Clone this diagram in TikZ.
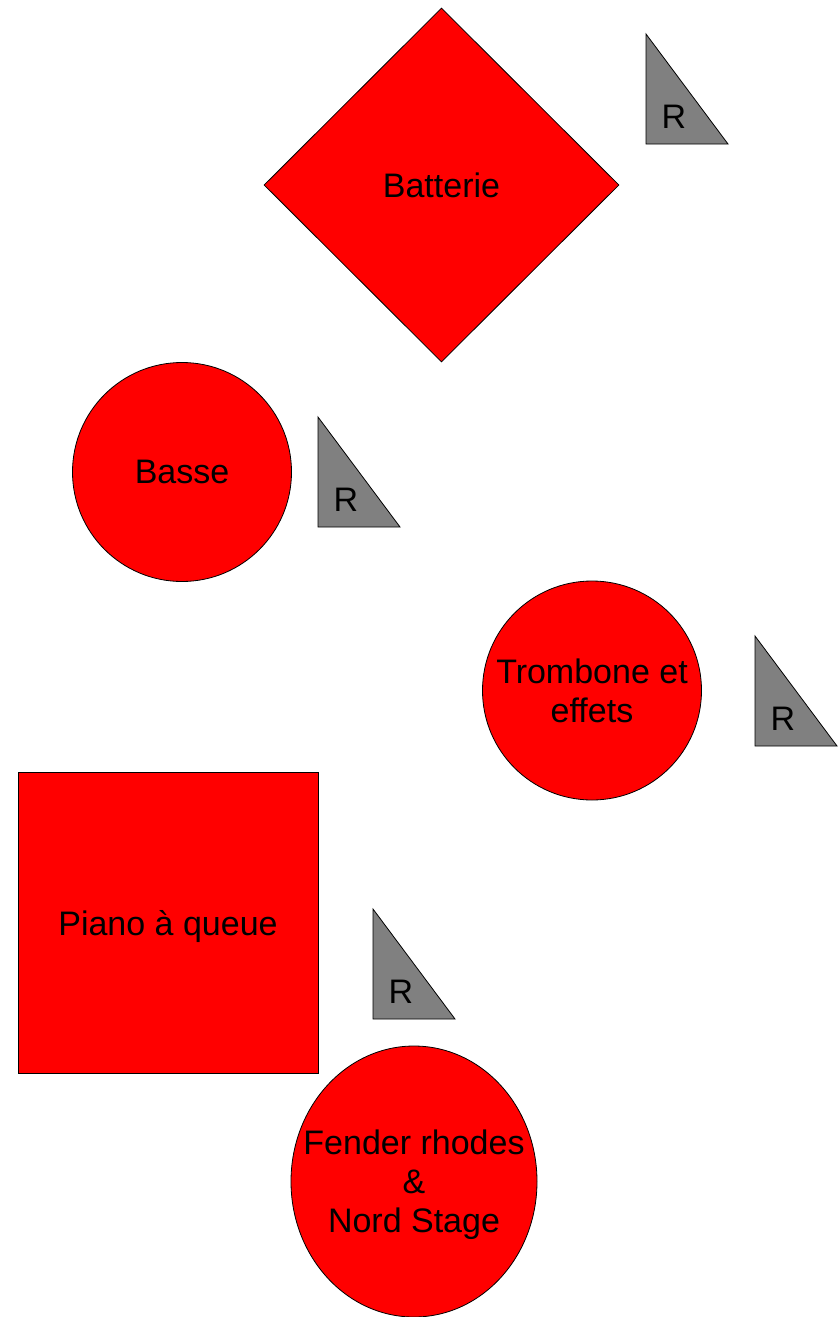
\documentclass[tikz,border=0pt]{standalone}
\usepackage{fontspec}
\setmainfont{Liberation Sans}
\usetikzlibrary{shapes.geometric}

\tikzset{
  instru/.style={draw=black, fill=red, line width=0.8pt, inner sep=0pt, align=center, text depth=0pt},
  retour/.style={draw=black, fill=gray, line width=0.8pt, line join=miter},
  retourtxt/.style={inner sep=0pt}
}

\begin{document}
\begin{tikzpicture}[x=1pt, y=-1pt, font=\fontsize{34}{39}\selectfont]
            \useasboundingbox (0,0) rectangle (838,1317);

            % instruments
            \node[instru, diamond, minimum width=355pt, minimum height=354pt] (batterie) at (441.5,185) {Batterie};
            \node[instru, circle, minimum size=219pt] (basse) at (182,472) {Basse};
            \node[instru, circle, minimum size=219pt] (trombone) at (592,690.5) {Trombone et\\effets};
            \node[instru, rectangle, minimum width=300pt, minimum height=301pt] (piano) at (168,922.5) {Piano à queue};
            \node[instru, ellipse, minimum width=246pt, minimum height=271pt] (fender) at (414,1181.5) {};
            \node[align=center, inner sep=0pt] (fendertxt) at (414,1184.5) {Fender rhodes\\\&\\Nord Stage};

            % retours
            \foreach \x/\y [count=\i] in {646/34, 318/417, 755/636, 373/909} {
                \draw[retour] (\x,\y) -- ++(0,110) -- ++(82,0) -- cycle;
                \node[retourtxt] (r\i) at (\x+28,\y+83) {R};
            }
        \end{tikzpicture}
\end{document}
